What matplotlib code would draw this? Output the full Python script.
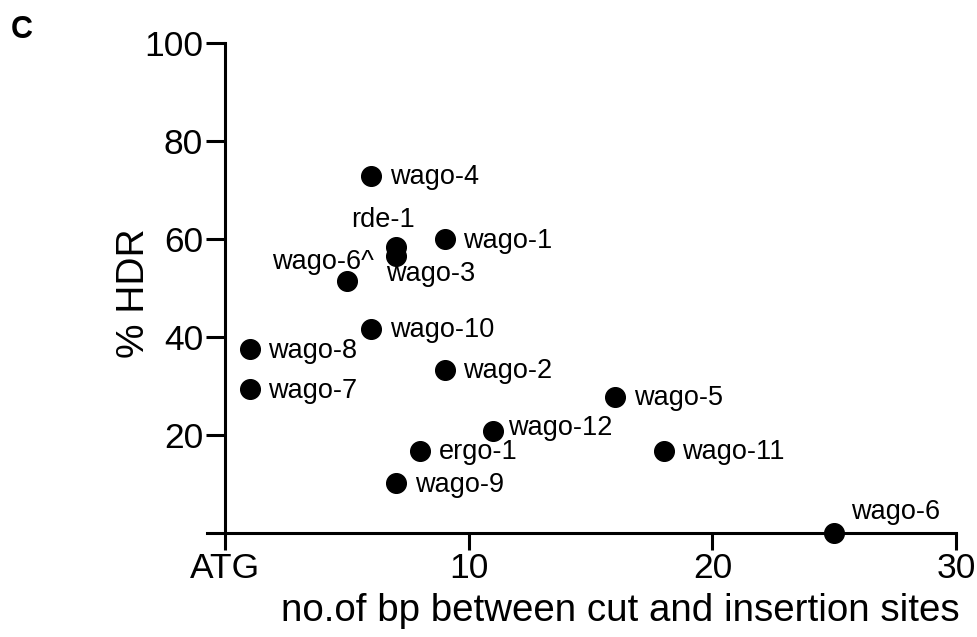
import matplotlib.pyplot as plt

plt.rcParams["font.family"] = ["Liberation Sans", "DejaVu Sans"]

# gene, bp between cut and insertion, % HDR
genes = ["wago-4", "rde-1", "wago-3", "wago-1", "wago-6^", "wago-10", "wago-8",
         "wago-7", "wago-2", "wago-5", "wago-12", "ergo-1", "wago-11", "wago-9", "wago-6"]
bp = [6, 7, 7, 9, 5, 6, 1, 1, 9, 16, 11, 8, 18, 7, 25]
hdr = [72.9, 58.4, 56.6, 59.9, 51.4, 41.7, 37.5, 29.3, 33.3, 27.8, 20.9, 16.8, 16.8, 10.1, 0]

# label offsets (points) relative to each dot
offsets = {
    "rde-1": (-9, 19, "center"),
    "wago-3": (-7, -13, "left"),
    "wago-6^": (19, 14, "right"),
    "wago-12": (11, 2, "left"),
    "wago-6": (12, 15, "left"),
}

fig = plt.figure(figsize=(9.78, 6.37), dpi=100)
ax = fig.add_axes([0.2117, 0.1633, 0.7658, 0.7692])

ax.scatter(bp, hdr, s=200, color="black", zorder=3, clip_on=False)

for g, x, y in zip(genes, bp, hdr):
    dx, dy, ha = offsets.get(g, (13.5, -1, "left"))
    ax.annotate(g, (x, y), xytext=(dx, dy), textcoords="offset points",
                ha=ha, va="center", fontsize=19.5)

ax.set_xlim(-0.75, 30)
ax.set_ylim(0, 100)
ax.spines["left"].set_position(("data", 0))
ax.spines["left"].set_bounds(0, 100)
ax.spines["top"].set_visible(False)
ax.spines["right"].set_visible(False)
for s in ["left", "bottom"]:
    ax.spines[s].set_linewidth(2.2)

ax.set_xticks([0, 10, 20, 30])
ax.set_xticklabels(["ATG", "10", "20", "30"])
ax.set_yticks([20, 40, 60, 80, 100])
ax.tick_params(axis="both", width=2.2, labelsize=25.5, pad=2)
ax.tick_params(axis="y", length=14)
ax.tick_params(axis="x", length=12)

ax.set_ylabel("% HDR", fontsize=28)
ax.yaxis.set_label_coords(-0.073, 0.49)
ax.set_xlabel("no.of bp between cut and insertion sites", fontsize=27.7, labelpad=0)
ax.xaxis.set_label_coords(0.552, -0.122)

fig.text(0.011, 0.94, "C", fontsize=22, fontweight="bold")

fig.savefig("out.png", dpi=100)
